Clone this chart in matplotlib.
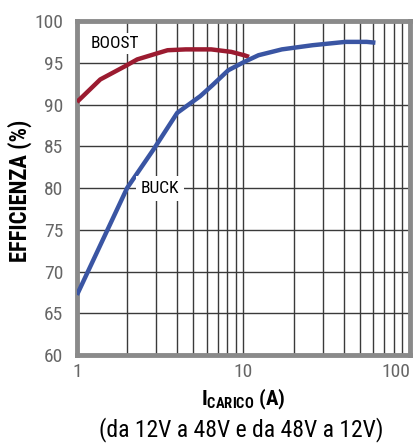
import matplotlib
matplotlib.use("Agg")
import matplotlib.pyplot as plt
from matplotlib import font_manager

names = {f.name for f in font_manager.fontManager.ttflist}
prefs = ['Nimbus Sans Narrow', 'Liberation Sans Narrow', 'Arial Narrow', 'Roboto Condensed',
         'Archivo Narrow', 'Pragati Narrow', 'PT Sans Narrow', 'Fira Sans Condensed',
         'IBM Plex Sans Condensed', 'Barlow Condensed', 'Asap Condensed', 'Open Sans Condensed',
         'Encode Sans Condensed', 'Roboto']
cond = next((p for p in prefs if p in names), 'DejaVu Sans')
plt.rcParams['font.family'] = [cond, 'DejaVu Sans']

boost_x = [1.0, 1.38, 1.95, 2.3, 3.0, 3.5, 4.5, 6.4, 8.45, 10.1, 10.8]
boost_y = [90.3, 93.0, 94.6, 95.4, 96.1, 96.5, 96.6, 96.6, 96.3, 95.9, 95.7]
buck_x = [1.0, 2.0, 2.9, 4.0, 5.5, 6.5, 8.1, 10.1, 12.3, 17.0, 26.0, 41.0, 55.0, 62.0]
buck_y = [67.2, 80.0, 84.7, 89.0, 91.0, 92.3, 94.1, 95.1, 95.9, 96.6, 97.1, 97.5, 97.5, 97.4]

x_ticks = [1, 10, 100]
x_ticklabels = ['1', '10', '100']
y_ticks = [60, 65, 70, 75, 80, 85, 90, 95, 100]

fig = plt.figure(figsize=(4.13, 4.43), dpi=100)
ax = fig.add_axes([0.1864, 0.1986, 0.8063, 0.754])
ax.set_xscale('log')
ax.set_xlim(1, 100)
ax.set_ylim(60, 100)

minor = [m * d for d in (1, 10) for m in range(2, 10)]
for v in minor + [10]:
    ax.axvline(v, color='#3a3a3a', lw=1.0, zorder=1)
for v in y_ticks[1:-1]:
    ax.axhline(v, color='#3a3a3a', lw=1.0, zorder=1)

ax.plot(boost_x, boost_y, color='#9b1b30', lw=3.2, zorder=3, solid_capstyle='butt')
ax.plot(buck_x, buck_y, color='#3a55a3', lw=3.2, zorder=3, solid_capstyle='butt')

ax.text(1.2, 97.3, 'BOOST', fontsize=12.5, color='black', ha='left', va='center',
        zorder=4, bbox=dict(facecolor='white', edgecolor='none', pad=2))
ax.text(2.42, 79.94, 'BUCK', fontsize=12.5, color='black', ha='left', va='center',
        zorder=4, bbox=dict(facecolor='white', edgecolor='none', pad=3.5))

ax.set_xticks(x_ticks)
ax.set_xticklabels(x_ticklabels)
ax.set_xticks([], minor=True)
ax.set_yticks(y_ticks)
ax.tick_params(axis='y', length=0, labelsize=14, labelcolor='#666666', pad=10)
ax.tick_params(axis='x', length=0, labelsize=14, labelcolor='#666666', pad=6)
xl = ax.get_xticklabels()
xl[-1].set_ha('right')
xl[-1].set_x(100)
for s in ax.spines.values():
    s.set_color('#8a8a8a')
    s.set_linewidth(3.5)

ax.set_ylabel('EFFICIENZA (%)', fontsize=16.3, fontweight='bold')
ax.yaxis.set_label_coords(-0.135, 0.49)
fig.text(0.588, 0.098, r'I$_{\mathregular{CARICO}}$ (A)', ha='center', va='center',
         fontsize=15, fontweight='bold')
fig.text(0.584, 0.03, '(da 12V a 48V e da 48V a 12V)', ha='center', va='center',
         fontsize=17, color='black')

fig.savefig('out.png', dpi=100)
